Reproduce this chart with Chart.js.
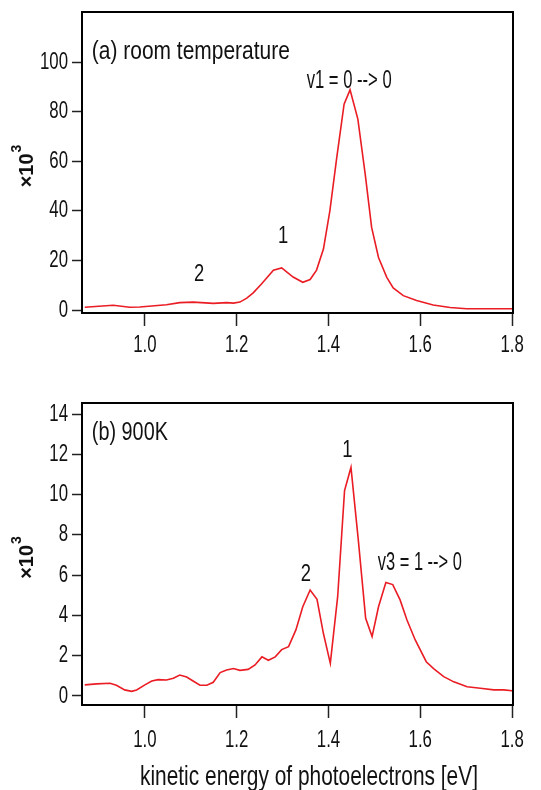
<!DOCTYPE html>
<html>
<head>
<meta charset="utf-8">
<script src="https://cdn.jsdelivr.net/npm/chart.js@4.4.1/dist/chart.umd.min.js"></script>
<style>
  html, body { margin: 0; padding: 0; background: #fff; }
  #wrap { position: relative; width: 541px; height: 790px; }
  #c1 { position: absolute; left: 0; top: 0; }
  #c2 { position: absolute; left: 0; top: 390px; }
</style>
</head>
<body>
<div id="wrap">
  <canvas id="c1" width="541" height="360"></canvas>
  <canvas id="c2" width="541" height="400"></canvas>
</div>
<script>
// ---- data (kinetic energy [eV], counts / 10^3) ----
const topX = [0.869,0.900,0.931,0.967,0.989,1.047,1.076,1.105,1.149,1.178,1.193,1.207,1.222,1.236,1.254,1.280,1.298,1.323,1.344,1.360,1.374,1.389,1.403,1.418,1.434,1.447,1.464,1.480,1.494,1.509,1.527,1.541,1.563,1.592,1.628,1.665,1.701,1.760,1.800];
const topY = [1.1,1.5,1.9,1.1,1.2,2.1,3.0,3.2,2.7,3.0,2.8,3.2,4.8,6.9,10.5,16.1,17.0,13.3,11.2,12.3,16.1,24.6,40,61.5,83,88.8,77,54.8,33.3,21.2,13.2,8.9,5.8,3.8,2.0,1.0,0.5,0.5,0.5];
const botX = [0.869,0.895,0.924,0.938,0.956,0.971,0.982,1.000,1.015,1.029,1.047,1.062,1.076,1.091,1.105,1.120,1.135,1.149,1.164,1.178,1.193,1.207,1.225,1.240,1.255,1.269,1.284,1.298,1.313,1.329,1.344,1.360,1.375,1.389,1.404,1.420,1.435,1.449,1.465,1.481,1.495,1.509,1.525,1.540,1.556,1.571,1.589,1.613,1.629,1.651,1.673,1.702,1.731,1.760,1.782,1.800];
const botY = [0.55,0.6,0.63,0.53,0.3,0.23,0.3,0.55,0.74,0.81,0.79,0.88,1.04,0.94,0.74,0.53,0.53,0.68,1.16,1.29,1.36,1.27,1.32,1.54,1.94,1.77,1.94,2.3,2.45,3.28,4.43,5.26,4.8,3.1,1.62,4.93,10.2,11.35,7.74,3.86,2.95,4.43,5.63,5.53,4.77,3.77,2.78,1.7,1.36,0.96,0.7,0.46,0.38,0.3,0.3,0.26];

const xTicks = [1.0, 1.2, 1.4, 1.6, 1.8];
const topYTicks = [0, 20, 40, 60, 80, 100];
const botYTicks = [0, 2, 4, 6, 8, 10, 12, 14];

const topLabelText = ['(a) room temperature', 'v1 = 0 --> 0', '1', '2'];
const topLabelX = [0.8845, 1.445, 1.301, 1.118];
const topLabelY = [104, 92.3, 29.4, 14.1];
const botLabelText = ['(b) 900K', '1', '2', 'v3 = 1 --> 0'];
const botLabelX = [0.8845, 1.441, 1.351, 1.599];
const botLabelY = [13.06, 12.2, 6.0, 6.6];

const xTitle = 'kinetic energy of photoelectrons [eV]';
const yTitleMain = '×10';
const yTitleSup = '3';

// ---- styling ----
const FONT = "'Liberation Sans', Arial, sans-serif";
const RED = '#ea1c24';
const INK = '#111111';
// rendered widths of the condensed annotation texts (style only)
const labelFit = { '(a) room temperature': 198, 'v1 = 0 --> 0': 85, '(b) 900K': 76, 'v3 = 1 --> 0': 84 };

function drawSquash(ctx, text, x, y, font, align, fitW, sx) {
  ctx.font = font;
  const w = ctx.measureText(text).width;
  const s = fitW ? fitW / w : sx;
  ctx.save();
  ctx.translate(x, y);
  ctx.scale(s, 1);
  ctx.textAlign = align;
  ctx.textBaseline = 'middle';
  ctx.fillText(text, 0, 0);
  ctx.restore();
}

const annotPlugin = {
  id: 'annot',
  afterDatasetsDraw(chart, args, opts) {
    const {ctx, chartArea, scales} = chart;
    const xs = scales.x, ys = scales.y;
    ctx.save();
    // frame
    ctx.strokeStyle = '#000';
    ctx.lineWidth = 2;
    ctx.strokeRect(chartArea.left, chartArea.top, chartArea.right - chartArea.left, chartArea.bottom - chartArea.top);
    ctx.fillStyle = INK;
    // tick labels (condensed)
    xs.ticks.forEach(t => {
      drawSquash(ctx, Number(t.value).toFixed(1), xs.getPixelForValue(t.value), chartArea.bottom + opts.xLabelOffset,
                 '24px ' + FONT, 'center', null, 0.7);
    });
    ys.ticks.forEach(t => {
      drawSquash(ctx, String(t.value), chartArea.left - 14, ys.getPixelForValue(t.value),
                 '24px ' + FONT, 'right', null, 0.7);
    });
    // annotations
    opts.text.forEach((txt, i) => {
      const left = txt.startsWith('(');
      drawSquash(ctx, txt, xs.getPixelForValue(opts.lx[i]), ys.getPixelForValue(opts.ly[i]),
                 (labelFit[txt] ? '25px ' : '23px ') + FONT, left ? 'left' : 'center', labelFit[txt] || null, 0.8);
    });
    // y axis title  (×10^3), rotated
    ctx.save();
    ctx.translate(27, (chartArea.top + chartArea.bottom) / 2 + 4);
    ctx.rotate(-Math.PI / 2);
    ctx.font = 'bold 20px ' + FONT;
    const wMain = ctx.measureText(yTitleMain).width;
    ctx.font = 'bold 14px ' + FONT;
    const wSup = ctx.measureText(yTitleSup).width;
    const x0 = -(wMain + wSup) / 2;
    ctx.textAlign = 'left';
    ctx.textBaseline = 'middle';
    ctx.font = 'bold 20px ' + FONT;
    ctx.fillText(yTitleMain, x0, 0);
    ctx.font = 'bold 14px ' + FONT;
    ctx.fillText(yTitleSup, x0 + wMain + 1, -10);
    ctx.restore();
    // x axis title
    if (opts.xTitle) {
      drawSquash(ctx, opts.xTitle, xs.getPixelForValue(opts.xTitleX), opts.xTitleY, '28px ' + FONT, 'center', 338, null);
    }
    ctx.restore();
  }
};

function makeChart(id, xs, ys, yMin, yMax, yTicks, lText, lx, ly, xAxisH, padTop, xLabelOffset, showXTitle) {
  const data = xs.map((x, i) => ({x: x, y: ys[i]}));
  return new Chart(document.getElementById(id), {
    type: 'line',
    data: { datasets: [{ data: data, borderColor: RED, borderWidth: 1.6, pointRadius: 0, tension: 0, fill: false }] },
    plugins: [annotPlugin],
    options: {
      responsive: false,
      animation: false,
      layout: { padding: { top: padTop, right: 28, left: 0, bottom: 0 } },
      plugins: {
        legend: { display: false },
        tooltip: { enabled: false },
        annot: {
          text: lText, lx: lx, ly: ly,
          xLabelOffset: xLabelOffset,
          xTitle: showXTitle ? xTitle : null,
          xTitleX: 1.3575,
          xTitleY: 387
        }
      },
      scales: {
        x: {
          type: 'linear', min: 0.863, max: 1.802,
          afterBuildTicks: s => { s.ticks = xTicks.map(v => ({value: v})); },
          afterFit: s => { s.height = xAxisH; },
          grid: { drawOnChartArea: false, drawTicks: true, tickLength: 13, tickColor: '#222', tickWidth: 1.5 },
          border: { display: true, color: '#000', width: 2 },
          ticks: { display: false }
        },
        y: {
          type: 'linear', min: yMin, max: yMax,
          afterBuildTicks: s => { s.ticks = yTicks.map(v => ({value: v})); },
          afterFit: s => { s.width = 82; },
          grid: { drawOnChartArea: false, drawTicks: true, tickLength: 10, tickColor: '#222', tickWidth: 1.5 },
          border: { display: true, color: '#000', width: 2 },
          ticks: { display: false }
        }
      }
    }
  });
}

makeChart('c1', topX, topY, -1.2, 120.2, topYTicks, topLabelText, topLabelX, topLabelY, 47, 12, 32, false);
makeChart('c2', botX, botY, -0.45, 14.55, botYTicks, botLabelText, botLabelX, botLabelY, 85, 13, 35, true);
</script>
</body>
</html>
